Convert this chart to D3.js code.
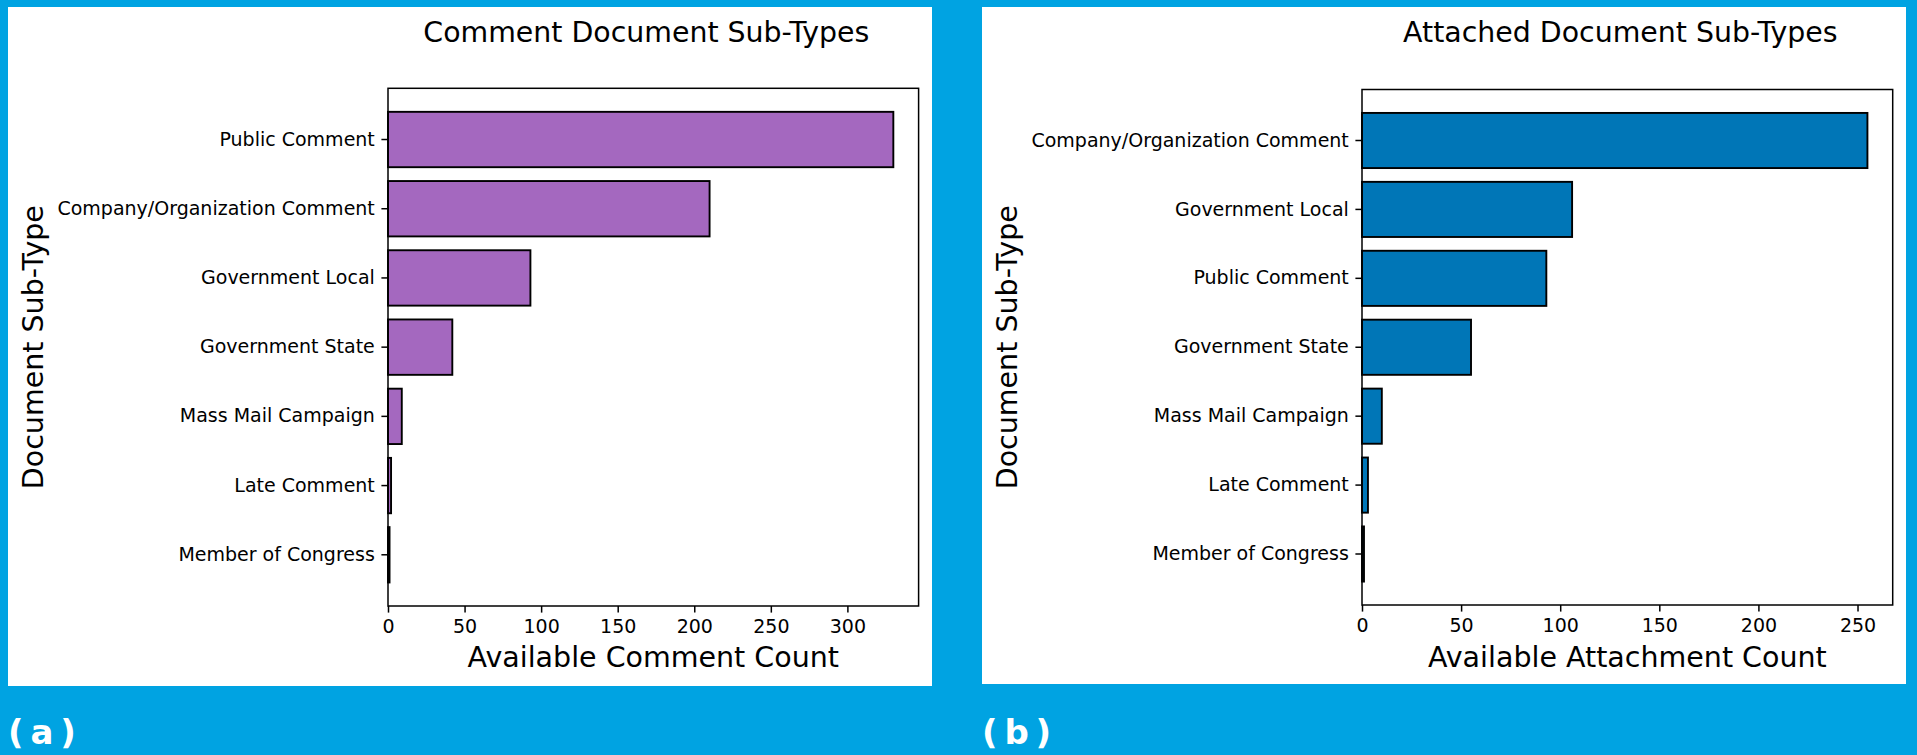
<!DOCTYPE html>
<html>
<head>
<meta charset="utf-8">
<script src="https://cdn.jsdelivr.net/npm/d3@7"></script>
<style>
  html, body { margin: 0; padding: 0; background: #00a3e2; }
  svg { display: block; }
  text { font-family: "DejaVu Sans", sans-serif; fill: #000; }
</style>
</head>
<body>
<svg id="fig" width="1917" height="755"></svg>
<script>
// Comment document sub-types (left panel)
const commentCategories = ["Public Comment", "Company/Organization Comment", "Government Local",
  "Government State", "Mass Mail Campaign", "Late Comment", "Member of Congress"];
const commentCounts = [330, 210, 93, 42, 9, 2, 1];
const commentTicks = [0, 50, 100, 150, 200, 250, 300];

// Attached document sub-types (right panel)
const attachCategories = ["Company/Organization Comment", "Government Local", "Public Comment",
  "Government State", "Mass Mail Campaign", "Late Comment", "Member of Congress"];
const attachCounts = [255, 106, 93, 55, 10, 3, 1];
const attachTicks = [0, 50, 100, 150, 200, 250];

const svg = d3.select("#fig");
svg.append("rect").attr("width", 1917).attr("height", 755).attr("fill", "#00a3e2");

function drawPanel(cfg, cats, vals, ticks) {
  // white card
  svg.append("rect")
    .attr("x", cfg.card[0]).attr("y", cfg.card[1])
    .attr("width", cfg.card[2] - cfg.card[0]).attr("height", cfg.card[3] - cfg.card[1])
    .attr("fill", "#fff");

  const x = d3.scaleLinear().domain([0, d3.max(vals) * 1.05]).range([cfg.left, cfg.right]);
  const y = d3.scaleBand().domain(cats).range([cfg.top, cfg.bottom])
    .paddingInner(0.2).paddingOuter(0.34);

  const g = svg.append("g");

  // bars
  g.selectAll("rect.bar").data(cats).join("rect")
    .attr("class", "bar")
    .attr("x", x(0))
    .attr("y", d => y(d))
    .attr("width", (d, i) => x(vals[i]) - x(0))
    .attr("height", y.bandwidth())
    .attr("fill", cfg.color)
    .attr("stroke", "#000")
    .attr("stroke-width", 1.9);

  // frame
  g.append("rect")
    .attr("x", cfg.left).attr("y", cfg.top)
    .attr("width", cfg.right - cfg.left).attr("height", cfg.bottom - cfg.top)
    .attr("fill", "none").attr("stroke", "#000").attr("stroke-width", 1.5);

  // y axis
  const yAxis = d3.axisLeft(y).tickSize(6.6).tickPadding(6.6);
  const ya = g.append("g").attr("transform", `translate(${cfg.left},0)`).call(yAxis);
  ya.select(".domain").remove();
  ya.selectAll("line").attr("stroke", "#000").attr("stroke-width", 1.5);
  ya.selectAll("text").attr("font-size", "19px").attr("font-family", "DejaVu Sans").attr("fill", "#000");

  // x axis
  const xAxis = d3.axisBottom(x).tickValues(ticks).tickSize(6.6).tickPadding(6.6).tickFormat(d3.format("d"));
  const xa = g.append("g").attr("transform", `translate(0,${cfg.bottom})`).call(xAxis);
  xa.select(".domain").remove();
  xa.selectAll("line").attr("stroke", "#000").attr("stroke-width", 1.5);
  xa.selectAll("text").attr("font-size", "19px").attr("font-family", "DejaVu Sans").attr("fill", "#000");

  // title
  g.append("text")
    .attr("x", (cfg.left + cfg.right) / 2 - 7).attr("y", 42)
    .attr("text-anchor", "middle").attr("font-size", "28.4px")
    .text(cfg.title);

  // x label
  g.append("text")
    .attr("x", (cfg.left + cfg.right) / 2).attr("y", 667)
    .attr("text-anchor", "middle").attr("font-size", "28.5px")
    .text(cfg.xlabel);

  // y label
  g.append("text")
    .attr("transform", `translate(${cfg.left - 355},${(cfg.top + cfg.bottom) / 2}) rotate(-90)`)
    .attr("text-anchor", "middle").attr("dominant-baseline", "central")
    .attr("font-size", "28.5px")
    .text("Document Sub-Type");

  // panel tag
  svg.append("text")
    .attr("x", cfg.card[0]).attr("y", 744)
    .attr("font-family", "'Open Sans', sans-serif").attr("font-weight", 600)
    .attr("font-size", "34px").attr("word-spacing", "-5px").style("fill", "#fff")
    .attr("xml:space", "preserve")
    .text(cfg.tag);
}

drawPanel({
  card: [8, 7, 932, 686], left: 388, right: 918.6, top: 88.3, bottom: 606,
  color: "#a468bf", title: "Comment Document Sub-Types",
  xlabel: "Available Comment Count", tag: "( a )"
}, commentCategories, commentCounts, commentTicks);

drawPanel({
  card: [982, 7, 1906, 684], left: 1362, right: 1892.7, top: 89.5, bottom: 605,
  color: "#0076b7", title: "Attached Document Sub-Types",
  xlabel: "Available Attachment Count", tag: "( b )"
}, attachCategories, attachCounts, attachTicks);
</script>
</body>
</html>
